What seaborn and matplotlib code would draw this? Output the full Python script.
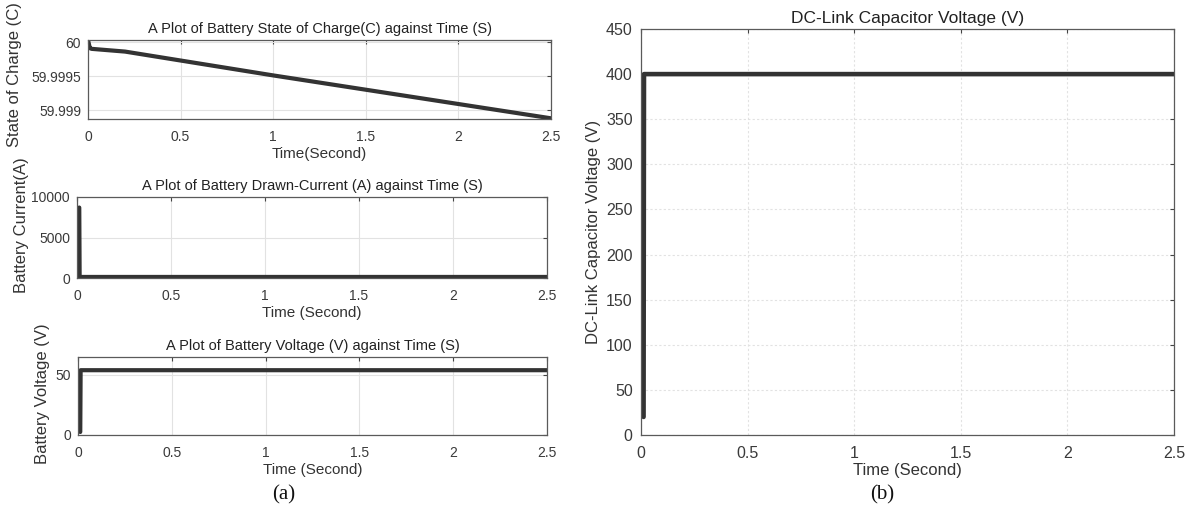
import matplotlib
matplotlib.use("Agg")
import matplotlib.pyplot as plt
import seaborn as sns

# values
soc_time = [0.0, 0.01, 0.02, 0.2, 1.0, 2.5]
soc_value = [60.00003, 59.99991, 59.9999, 59.99986, 59.99951, 59.99888]

cur_time = [0.012, 0.014, 2.5]
cur_value = [8700, 130, 130]

bv_time = [0.012, 0.014, 2.5]
bv_value = [2.5, 54, 54]

dc_time = [0.012, 0.014, 2.5]
dc_value = [20, 400, 400]

time_ticks = [0, 0.5, 1, 1.5, 2, 2.5]
time_tick_labels = ["0", "0.5", "1", "1.5", "2", "2.5"]
soc_ticks = [59.999, 59.9995, 60]
soc_tick_labels = ["59.999", "59.9995", "60"]
cur_ticks = [0, 5000, 10000]
bv_ticks = [0, 50]
dc_ticks = [0, 50, 100, 150, 200, 250, 300, 350, 400, 450]

sns.set_theme(style="whitegrid")
plt.rcParams['font.family'] = ['Liberation Sans', 'DejaVu Sans']

W, H = 1193, 515
fig = plt.figure(figsize=(W / 100, H / 100), dpi=100)
fig.patch.set_facecolor("white")


def px_axes(left, top, right, bottom):
    return fig.add_axes([left / W, 1 - bottom / H, (right - left) / W, (bottom - top) / H])


def style(ax, fs, grid_ls="-", xpad=8, ypad=5):
    ax.set_facecolor("white")
    for s in ax.spines.values():
        s.set_visible(True)
        s.set_color("#5a5a5a")
        s.set_linewidth(0.9)
    ax.tick_params(direction="in", length=3, width=0.8, top=True, right=True,
                   colors="#444444", labelsize=fs, labelcolor="#3a3a3a")
    ax.tick_params(axis="x", pad=xpad)
    ax.tick_params(axis="y", pad=ypad)
    ax.grid(True, color="#e2e2e2", lw=0.8, ls=grid_ls)
    ax.set_xlim(0, 2.5)
    ax.set_xticks(time_ticks)
    ax.set_xticklabels(time_tick_labels)


line_kw = dict(color="#333333", linewidth=3.0, estimator=None, sort=False)

# (a) top: state of charge
ax1 = px_axes(88, 40, 551, 119)
sns.lineplot(x=soc_time, y=soc_value, ax=ax1, **line_kw)
style(ax1, 10)
ax1.set_ylim(59.99887, 60.00003)
ax1.set_yticks(soc_ticks)
ax1.set_yticklabels(soc_tick_labels)
ax1.set_title("A Plot of Battery State of Charge(C) against Time (S)", fontsize=10.5, color="#222222", pad=5)
ax1.set_xlabel("Time(Second)", fontsize=11, color="#333333", labelpad=2)
ax1.set_ylabel("State of Charge (C)", fontsize=12, color="#333333", va="center")
ax1.yaxis.set_label_coords(-0.158, 0.56)

# (a) middle: battery current
ax2 = px_axes(77, 197, 547, 278)
sns.lineplot(x=cur_time, y=cur_value, ax=ax2, **line_kw)
style(ax2, 10)
ax2.set_ylim(0, 10000)
ax2.set_yticks(cur_ticks)
ax2.set_title("A Plot of Battery Drawn-Current (A) against Time (S)", fontsize=10.5, color="#222222", pad=5)
ax2.set_xlabel("Time (Second)", fontsize=11, color="#333333", labelpad=2)
ax2.set_ylabel("Battery Current(A)", fontsize=12, color="#333333", va="center")
ax2.yaxis.set_label_coords(-0.119, 0.65)

# (a) bottom: battery voltage
ax3 = px_axes(78, 357, 547, 435)
sns.lineplot(x=bv_time, y=bv_value, ax=ax3, **line_kw)
style(ax3, 10)
ax3.set_ylim(0, 65)
ax3.set_yticks(bv_ticks)
ax3.set_title("A Plot of Battery Voltage (V) against Time (S)", fontsize=10.5, color="#222222", pad=5)
ax3.set_xlabel("Time (Second)", fontsize=11, color="#333333", labelpad=2)
ax3.set_ylabel("Battery Voltage (V)", fontsize=12, color="#333333", va="center")
ax3.yaxis.set_label_coords(-0.075, 0.53)

# (b) DC-link capacitor voltage
ax4 = px_axes(641, 29, 1174, 435)
sns.lineplot(x=dc_time, y=dc_value, ax=ax4, **{**line_kw, "linewidth": 3.3})
style(ax4, 11.5, grid_ls=(0, (2, 2)), xpad=8, ypad=6)
ax4.set_ylim(0, 450)
ax4.set_yticks(dc_ticks)
ax4.set_title("DC-Link Capacitor Voltage (V)", fontsize=12.5, color="#222222", pad=4)
ax4.set_xlabel("Time (Second)", fontsize=12, color="#333333", labelpad=1)
ax4.set_ylabel("DC-Link Capacitor Voltage (V)", fontsize=12, color="#333333", va="center")
ax4.yaxis.set_label_coords(-0.09, 0.5)

fig.text(284 / W, 1 - 495 / H, "(a)", fontsize=15, family="Liberation Serif", ha="center", va="center", color="#111111")
fig.text(882 / W, 1 - 495 / H, "(b)", fontsize=15, family="Liberation Serif", ha="center", va="center", color="#111111")

fig.savefig("out.png", dpi=100, facecolor="white")
